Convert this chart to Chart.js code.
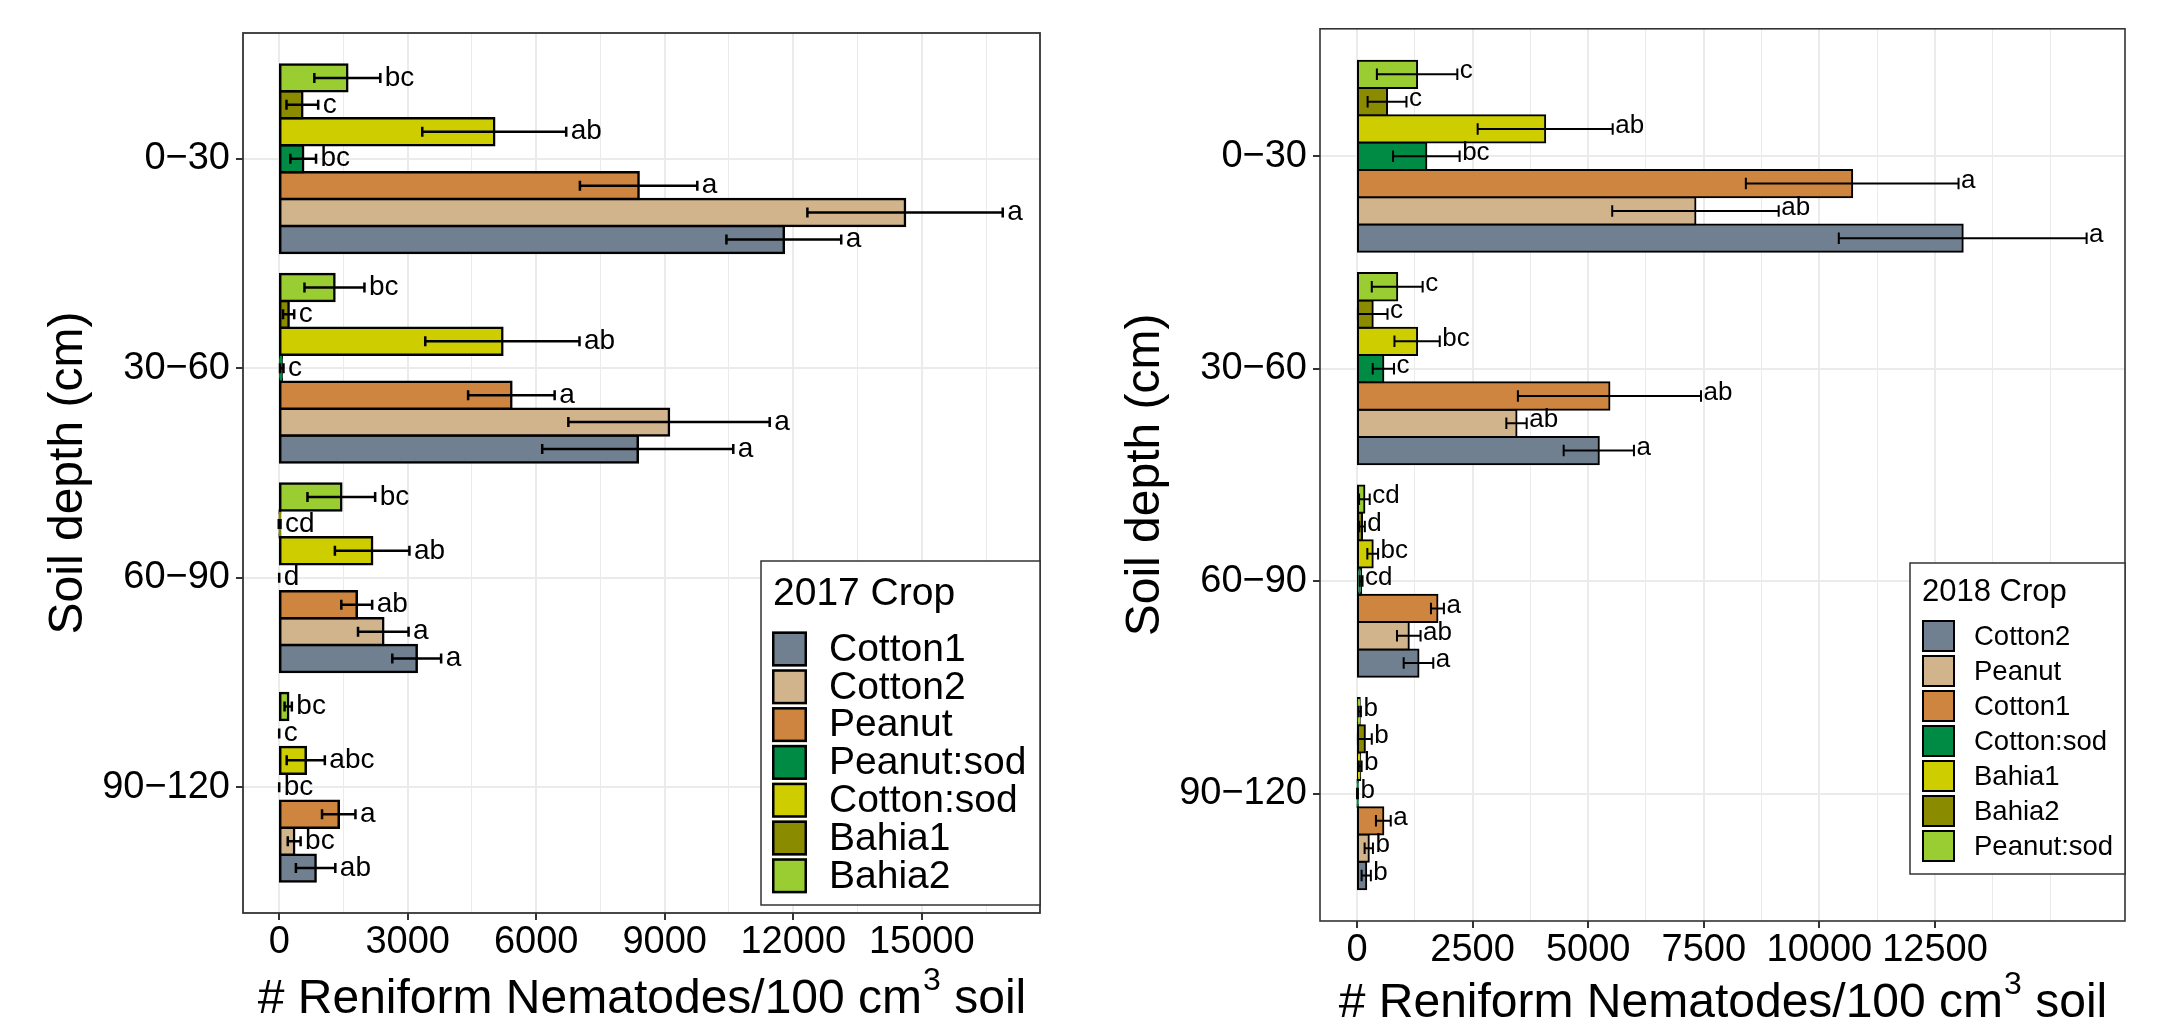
<!DOCTYPE html>
<html>
<head>
<meta charset="utf-8">
<title>Reniform nematodes by soil depth</title>
<script src="https://cdn.jsdelivr.net/npm/chart.js@4.4.1/dist/chart.umd.min.js"></script>
<style>
  html, body { margin: 0; padding: 0; background: #ffffff; }
  canvas { position: absolute; top: 0; }
  #chart2017 { left: 0; }
  #chart2018 { left: 1085px; }
</style>
</head>
<body>
<canvas id="chart2017" width="1085" height="1029"></canvas>
<canvas id="chart2018" width="1077" height="1029"></canvas>
<script>
const FONT = "'Liberation Sans', Arial, Helvetica, sans-serif";

const depths = ["0−30", "30−60", "60−90", "90−120"];
const yTitle = "Soil depth (cm)";
const xTitleMain = "# Reniform Nematodes/100 cm";
const xTitleSup = "3";
const xTitleTail = " soil";

// 2017 season, one row per crop (legend order), one value per depth
const crops2017 = ["Cotton1", "Cotton2", "Peanut", "Peanut:sod", "Cotton:sod", "Bahia1", "Bahia2"];
const colors2017 = ["#708090", "#D2B48C", "#CD853F", "#008B45", "#CDCD00", "#8B8B00", "#9ACD32"];
const mean2017 = [
    [11780, 8370, 3210, 850],
    [14610, 9100, 2430, 350],
    [8390, 5420, 1810, 1390],
    [560, 60, 0, 0],
    [5020, 5210, 2170, 620],
    [540, 220, 10, 0],
    [1590, 1290, 1450, 210]
];
const se2017 = [
    [1340, 2230, 570, 460],
    [2280, 2350, 590, 150],
    [1370, 1010, 360, 390],
    [300, 40, 0, 0],
    [1680, 1800, 870, 445],
    [370, 130, 20, 0],
    [770, 700, 790, 85]
];
const letters2017 = [
    ["a", "a", "a", "ab"],
    ["a", "a", "a", "bc"],
    ["a", "a", "ab", "a"],
    ["bc", "c", "d", "bc"],
    ["ab", "ab", "ab", "abc"],
    ["c", "c", "cd", "c"],
    ["bc", "bc", "bc", "bc"]
];
const xTicks2017 = [0, 3000, 6000, 9000, 12000, 15000];

// 2018 season
const crops2018 = ["Cotton2", "Peanut", "Cotton1", "Cotton:sod", "Bahia1", "Bahia2", "Peanut:sod"];
const colors2018 = ["#708090", "#D2B48C", "#CD853F", "#008B45", "#CDCD00", "#8B8B00", "#9ACD32"];
const mean2018 = [
    [13100, 5230, 1330, 200],
    [7320, 3450, 1120, 255],
    [10710, 5460, 1740, 570],
    [1500, 570, 90, 10],
    [4070, 1300, 340, 70],
    [650, 340, 110, 170],
    [1300, 870, 160, 60]
];
const se2018 = [
    [2680, 760, 320, 100],
    [1800, 220, 255, 90],
    [2300, 1980, 140, 160],
    [720, 230, 30, 10],
    [1460, 490, 116, 30],
    [420, 320, 60, 150],
    [870, 550, 115, 25]
];
const letters2018 = [
    ["a", "a", "a", "b"],
    ["ab", "ab", "ab", "b"],
    ["a", "ab", "a", "a"],
    ["bc", "c", "cd", "b"],
    ["ab", "bc", "bc", "b"],
    ["c", "c", "d", "b"],
    ["c", "c", "cd", "b"]
];
const xTicks2018 = [0, 2500, 5000, 7500, 10000, 12500];


function drawPanel(canvasId, p) {

    // grid lines every half step, one step past the last labelled tick
    const half = (p.xTicks[1] - p.xTicks[0]) / 2;
    const last = p.xTicks[p.xTicks.length - 1] + 2 * half;
    const gridValues = [];
    for (let v = 0; v <= last; v += half) {
        if (v <= p.xMax) gridValues.push(v);
    }
    const isMajor = v => p.xTicks.includes(v);

    // first dataset sits on top of each group, so feed them bottom-crop last
    const datasets = p.crops.map((crop, c) => ({
        label: crop,
        data: p.means[c].map((v, d) => ({ x: v, y: d + 1 })),
        se: p.ses[c],
        letters: p.letters[c],
        backgroundColor: p.colors[c],
        borderColor: "#000000",
        borderWidth: p.barBorder,
        borderSkipped: false,
        inflateAmount: p.barBorder / 2,
        categoryPercentage: 0.9,
        barPercentage: 1.0
    })).reverse();

    const decor = {
        id: "decor",
        afterDatasetsDraw(chart) {
            const ctx = chart.ctx;
            const xs = chart.scales.x;
            ctx.save();
            chart.data.datasets.forEach((ds, di) => {
                const meta = chart.getDatasetMeta(di);
                meta.data.forEach((bar, i) => {
                    const m = ds.data[i].x;
                    const e = ds.se[i];
                    const x0 = xs.getPixelForValue(m - e);
                    const x1 = xs.getPixelForValue(m + e);
                    const y = bar.y;
                    const h = p.capH / 2;
                    ctx.strokeStyle = "#000000";
                    ctx.lineWidth = p.errWidth;
                    ctx.beginPath();
                    ctx.moveTo(x0, y); ctx.lineTo(x1, y);
                    ctx.moveTo(x0, y - h); ctx.lineTo(x0, y + h);
                    ctx.moveTo(x1, y - h); ctx.lineTo(x1, y + h);
                    ctx.stroke();
                    ctx.fillStyle = "#000000";
                    ctx.font = p.letterSize + "px " + FONT;
                    ctx.textAlign = "left";
                    ctx.textBaseline = "middle";
                    ctx.fillText(ds.letters[i], x1 + p.letterGap, y + p.letterDy);
                });
            });
            ctx.restore();
        },
        afterDraw(chart) {
            const ctx = chart.ctx;
            const a = chart.chartArea;
            ctx.save();

            // panel border
            ctx.strokeStyle = "#333333";
            ctx.lineWidth = p.panelBorder;
            ctx.strokeRect(a.left, a.top, a.right - a.left, a.bottom - a.top);

            // y title
            ctx.fillStyle = "#000000";
            ctx.font = p.titleSize + "px " + FONT;
            ctx.textAlign = "center";
            ctx.textBaseline = "alphabetic";
            ctx.save();
            ctx.translate(p.yTitleX, (a.top + a.bottom) / 2);
            ctx.rotate(-Math.PI / 2);
            ctx.fillText(yTitle, 0, 0);
            ctx.restore();

            // x title with superscript
            const supSize = Math.round(p.titleSize * 0.66);
            ctx.textAlign = "left";
            ctx.font = p.titleSize + "px " + FONT;
            const w1 = ctx.measureText(xTitleMain).width;
            const w3 = ctx.measureText(xTitleTail).width;
            ctx.font = supSize + "px " + FONT;
            const w2 = ctx.measureText(xTitleSup).width;
            let tx = (a.left + a.right) / 2 - (w1 + w2 + w3) / 2;
            ctx.font = p.titleSize + "px " + FONT;
            ctx.fillText(xTitleMain, tx, p.xTitleY);
            ctx.font = supSize + "px " + FONT;
            ctx.fillText(xTitleSup, tx + w1 + 1, p.xTitleY - p.titleSize * 0.48);
            ctx.font = p.titleSize + "px " + FONT;
            ctx.fillText(xTitleTail, tx + w1 + w2 + 1, p.xTitleY);

            // legend
            const L = p.legend;
            ctx.fillStyle = "#ffffff";
            ctx.fillRect(L.x, L.y, L.w, L.h);
            ctx.strokeStyle = "#333333";
            ctx.lineWidth = 1.5;
            ctx.strokeRect(L.x, L.y, L.w, L.h);
            ctx.fillStyle = "#000000";
            ctx.font = L.titleSize + "px " + FONT;
            ctx.textBaseline = "alphabetic";
            ctx.fillText(L.title, L.titleX, L.titleY);
            ctx.font = L.labelSize + "px " + FONT;
            ctx.textBaseline = "middle";
            p.crops.forEach((crop, i) => {
                const cy = L.keyY + i * L.pitch;
                const top = cy - L.keyH / 2;
                ctx.fillStyle = p.colors[i];
                ctx.fillRect(L.keyX, top, L.keyW, L.keyH);
                ctx.strokeStyle = "#000000";
                ctx.lineWidth = L.keyBorder;
                ctx.strokeRect(L.keyX + L.keyBorder / 2, top + L.keyBorder / 2,
                    L.keyW - L.keyBorder, L.keyH - L.keyBorder);
                ctx.fillStyle = "#000000";
                ctx.fillText(crop, L.labelX, cy + 1);
            });

            ctx.restore();
        }
    };

    return new Chart(document.getElementById(canvasId), {
        type: "bar",
        data: { datasets: datasets },
        options: {
            indexAxis: "y",
            responsive: false,
            maintainAspectRatio: false,
            animation: false,
            devicePixelRatio: 1,
            layout: {
                padding: { top: p.top, right: p.right, bottom: 0, left: 0 }
            },
            plugins: {
                legend: { display: false },
                tooltip: { enabled: false }
            },
            scales: {
                x: {
                    type: "linear",
                    min: p.xMin,
                    max: p.xMax,
                    afterBuildTicks: s => { s.ticks = gridValues.map(v => ({ value: v })); },
                    afterFit: s => { s.height = p.xAxisH; },
                    border: { display: false },
                    grid: {
                        color: "#EBEBEB",
                        lineWidth: c => (c.tick && isMajor(c.tick.value)) ? 2 : 1,
                        tickLength: 7,
                        tickWidth: 2,
                        tickColor: c => (c.tick && isMajor(c.tick.value)) ? "#333333" : "rgba(0,0,0,0)"
                    },
                    ticks: {
                        autoSkip: false,
                        maxRotation: 0,
                        minRotation: 0,
                        padding: 0,
                        color: "#000000",
                        font: { family: FONT, size: 38 },
                        callback: v => isMajor(v) ? String(v) : ""
                    }
                },
                y: {
                    type: "linear",
                    reverse: true,
                    offset: false,
                    min: 0.4,
                    max: depths.length + 0.6,
                    afterBuildTicks: s => { s.ticks = depths.map((_, i) => ({ value: i + 1 })); },
                    afterFit: s => { s.width = p.yAxisW; },
                    border: { display: false },
                    grid: {
                        offset: false,
                        color: "#EBEBEB",
                        lineWidth: 2,
                        tickLength: 7,
                        tickWidth: 2,
                        tickColor: "#333333"
                    },
                    ticks: {
                        autoSkip: false,
                        padding: 6,
                        color: "#000000",
                        font: { family: FONT, size: 38 },
                        callback: v => depths[Math.round(v) - 1]
                    }
                }
            }
        },
        plugins: [decor]
    });
}


drawPanel("chart2017", {
    crops: crops2017, colors: colors2017, means: mean2017, ses: se2017, letters: letters2017,
    xTicks: xTicks2017, xMin: -845, xMax: 17760,
    top: 33, right: 45, yAxisW: 243, xAxisH: 116,
    barBorder: 2.5, errWidth: 2.5, capH: 10, panelBorder: 1.8,
    letterSize: 28, letterGap: 4.5, letterDy: 0,
    titleSize: 48, yTitleX: 82, xTitleY: 1013,
    legend: {
        x: 761, y: 561, w: 279, h: 344,
        title: "2017 Crop", titleSize: 39, titleX: 773, titleY: 605,
        labelSize: 39, labelX: 829,
        keyX: 772, keyW: 35, keyH: 35, keyY: 649, pitch: 37.8, keyBorder: 2.5
    }
});

drawPanel("chart2018", {
    crops: crops2018, colors: colors2018, means: mean2018, ses: se2018, letters: letters2018,
    xTicks: xTicks2018, xMin: -800, xMax: 16610,
    top: 28, right: 37, yAxisW: 235, xAxisH: 108,
    barBorder: 2, errWidth: 2, capH: 11.5, panelBorder: 1.6,
    letterSize: 26, letterGap: 2.5, letterDy: -3,
    titleSize: 48, yTitleX: 74, xTitleY: 1017,
    legend: {
        x: 825, y: 563, w: 215, h: 311,
        title: "2018 Crop", titleSize: 31, titleX: 837, titleY: 601,
        labelSize: 27.5, labelX: 889,
        keyX: 837, keyW: 33, keyH: 32, keyY: 636, pitch: 35, keyBorder: 2
    }
});
</script>
</body>
</html>
